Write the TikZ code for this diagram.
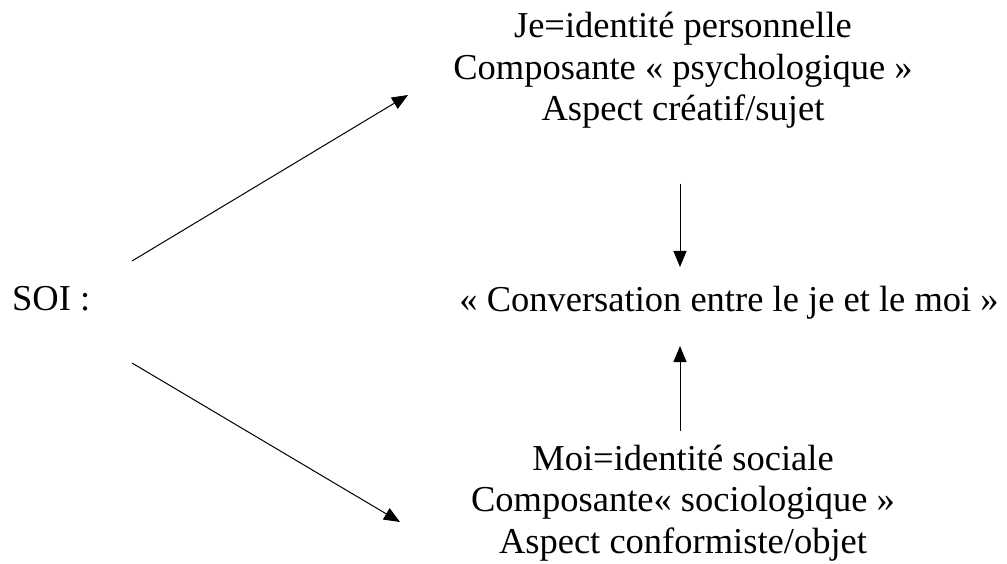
\documentclass[tikz,border=0pt]{standalone}
\usepackage{fontspec}
\setmainfont{Liberation Serif}
\usetikzlibrary{arrows.meta,positioning}

\tikzset{
    txt/.style={inner sep=0pt, align=center, font=\fontsize{36.5}{41.5}\selectfont},
    arr/.style={-{Triangle[length=16pt,width=13pt]}, line width=1pt}
}

\begin{document}
\begin{tikzpicture}[x=1pt, y=-1pt]
    % Frame
    \useasboundingbox (0,0) rectangle (1007,564);

    % Text blocks (base = baseline of the last line)
    \node[txt, anchor=base west] (soi) at (12,310) {SOI :};
    \node[txt, anchor=base] (je) at (683,121) {Je=identité personnelle\\Composante « psychologique »\\Aspect créatif/sujet};
    \node[txt, anchor=base] (conv) at (729,312) {« Conversation entre le je et le moi »};
    \node[txt, anchor=base] (moi) at (683,553) {Moi=identité sociale\\Composante« sociologique »\\Aspect conformiste/objet};

    % Free ends of the arrows
    \coordinate (soiup) at (132,261);
    \coordinate (soidown) at (132,363);
    \coordinate (jetip) at (408,95);
    \coordinate (moitip) at (400,522);
    \coordinate (jeout) at (680,184);
    \coordinate (convtop) at (680,267);
    \coordinate (moiout) at (680,431);
    \coordinate (convbot) at (680,346);

    % Arrows
    \draw[arr] (soiup) -- (jetip);
    \draw[arr] (soidown) -- (moitip);
    \draw[arr] (jeout) -- (convtop);
    \draw[arr] (moiout) -- (convbot);
\end{tikzpicture}
\end{document}
